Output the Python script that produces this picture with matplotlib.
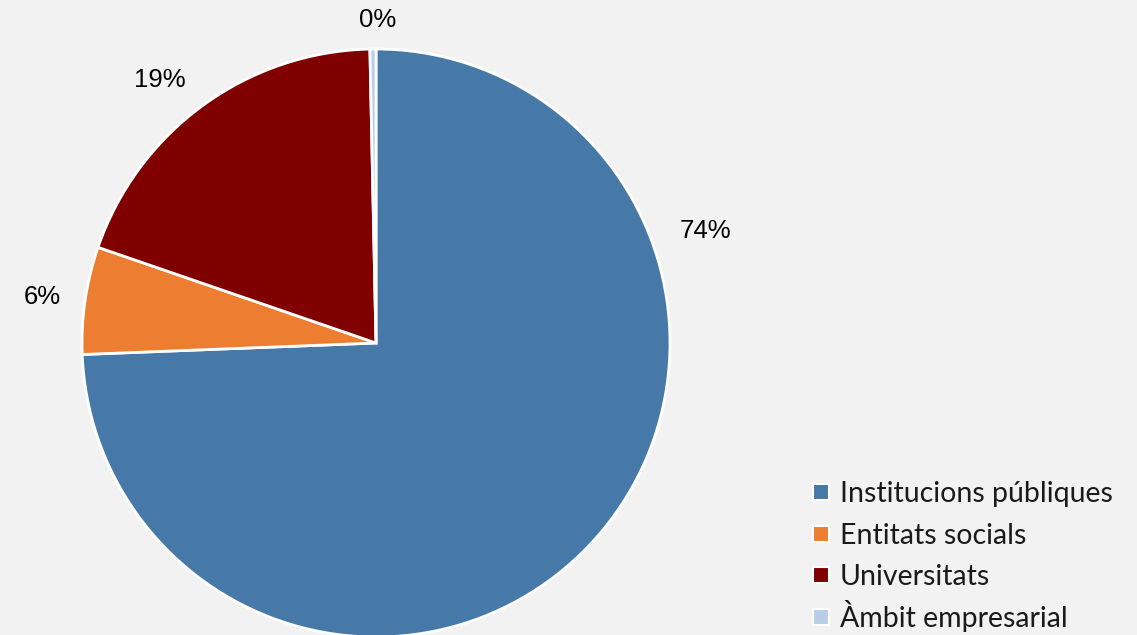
import matplotlib.pyplot as plt
from matplotlib.patches import Rectangle

# data
categories = ["Institucions públiques", "Entitats socials", "Universitats", "Àmbit empresarial"]
values = [74.4, 5.9, 19.4, 0.33]
labels = ["74%", "6%", "19%", "0%"]
colors = ["#4779a8", "#ed7d31", "#800000", "#b7cde8"]

# label spots (data units, radius = 1), placed like the original
label_pos = [(1.12, 0.38), (-1.135, 0.155), (-0.735, 0.895), (0.007, 1.10)]

bg = "#f2f2f2"
fig = plt.figure(figsize=(11.37, 6.35), dpi=100, facecolor=bg)
W, H = 1137, 635
cx, cy, r = 376, 292, 294
ax = fig.add_axes([(cx - r) / W, (cy - r) / H, 2 * r / W, 2 * r / H])
ax.set_facecolor(bg)

wedges, _ = ax.pie(values, colors=colors, startangle=90, counterclock=False,
                   radius=1, wedgeprops=dict(edgecolor="white", linewidth=2))
ax.set_xlim(-1, 1)
ax.set_ylim(-1, 1)
ax.set_aspect("equal")
ax.axis("off")
for w in wedges:
    w.set_clip_on(False)

for lab, (x, y) in zip(labels, label_pos):
    ax.text(x, y, lab, ha="center", va="center", fontsize=18.5,
            family="Liberation Sans", color="black")

# legend drawn by hand so the rows keep an even pitch (pixel units from top)
row0, pitch = 492, 41.7
box, box_x, text_x = 16, 813, 840
for i, (name, c) in enumerate(zip(categories, colors)):
    yc = row0 + i * pitch
    fig.patches.append(Rectangle(((box_x) / W, 1 - (yc + box / 2) / H), box / W, box / H,
                                 facecolor=c, edgecolor="white", linewidth=1.5,
                                 transform=fig.transFigure, figure=fig))
    fig.text(text_x / W, 1 - (yc + 10) / H, name, ha="left", va="baseline",
             family="Lato", fontsize=20.5, color="#1a1a1a")

fig.savefig("out.png", dpi=100, facecolor=bg)
